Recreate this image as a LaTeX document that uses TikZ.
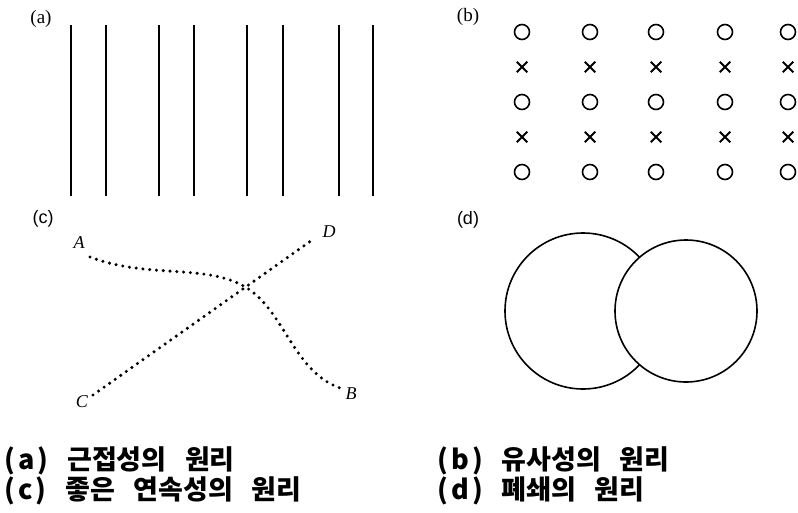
\documentclass[tikz,border=0pt]{standalone}
\usepackage{fontspec}
\setmainfont{Liberation Serif}
\newfontfamily\sansfont{Liberation Sans}
\newfontfamily\krfont{Noto Sans CJK KR}[WordSpace=3]
\newfontfamily\krwide{Noto Sans CJK KR}[LetterSpace=12]
\newcommand{\captag}[1]{{\krwide\bfseries(#1)}}
\usetikzlibrary{shapes.misc}
\tikzset{
  panelLabel/.style={inner sep=0pt, font=\fontsize{19}{19}\selectfont},
  sansLabel/.style={inner sep=0pt, font=\sansfont\fontsize{18}{18}\selectfont},
  pointLabel/.style={inner sep=0pt, font=\itshape\fontsize{18}{18}\selectfont},
  caption/.style={anchor=west, inner sep=0pt, font=\krfont\bfseries\fontsize{27}{27}\selectfont},
  barLine/.style={line width=1.8pt, draw=black},
  ringMark/.style={circle, draw, line width=1.6pt, minimum size=15pt, inner sep=0pt},
  crossMark/.style={cross out, draw, line width=2pt, minimum size=8.5pt, inner sep=0pt},
  dotLine/.style={line width=3.4pt, line cap=round, dash pattern=on 0pt off 6.8pt},
  bigRing/.style={circle, draw, line width=1.6pt, fill=white, inner sep=0pt}
}
\begin{document}
\begin{tikzpicture}[x=1pt, y=-1pt]
  \useasboundingbox (0,0) rectangle (798,512);

  % (a) proximity
  \node[panelLabel] (labA) at (41,19) {(a)};
  \foreach \x [count=\i] in {71,106,159,194,247,283,339,373} {
    \coordinate (top\i) at (\x,25);
    \coordinate (bot\i) at (\x,196);
    \draw[barLine] (top\i) -- (bot\i);
  }

  % (b) similarity
  \node[panelLabel] (labB) at (468,17) {(b)};
  \foreach \x [count=\i] in {522,590,656,725,788} {
    \foreach \y [count=\j] in {32,102,172}
      \node[ringMark] (ring\i\j) at (\x,\y) {};
    \foreach \y [count=\j] in {67,137}
      \node[crossMark] (cross\i\j) at (\x,\y) {};
  }

  % (c) good continuation
  \node[sansLabel] (labC) at (43,219) {(c)};
  \node[pointLabel] (ptA) at (79,243) {A};
  \node[pointLabel] (ptD) at (329,232) {D};
  \node[pointLabel] (ptC) at (82,402) {C};
  \node[pointLabel] (ptB) at (351,394) {B};
  \coordinate (endA) at (90,257);
  \coordinate (endB) at (340,388);
  \coordinate (endC) at (93,395);
  \coordinate (endD) at (315,238);
  \draw[dotLine] (endA) .. controls (150,280) and (210,262) .. (250,290)
                        .. controls (285,315) and (295,372) .. (endB);
  \draw[dotLine] (endC) -- (endD);

  % (d) closure
  \node[sansLabel] (labD) at (468,220) {(d)};
  \node[bigRing, minimum size=156pt] (leftRing) at (583,311) {};
  \node[bigRing, minimum size=142pt] (rightRing) at (686,311) {};

  % captions
  \node[caption] (capA) at (4,461) {\captag{a} 근접성의 원리};
  \node[caption] (capB) at (437,461) {\captag{b} 유사성의 원리};
  \node[caption] (capC) at (4,491) {\captag{c} 좋은 연속성의 원리};
  \node[caption] (capD) at (437,491) {\captag{d} 폐쇄의 원리};
\end{tikzpicture}
\end{document}
